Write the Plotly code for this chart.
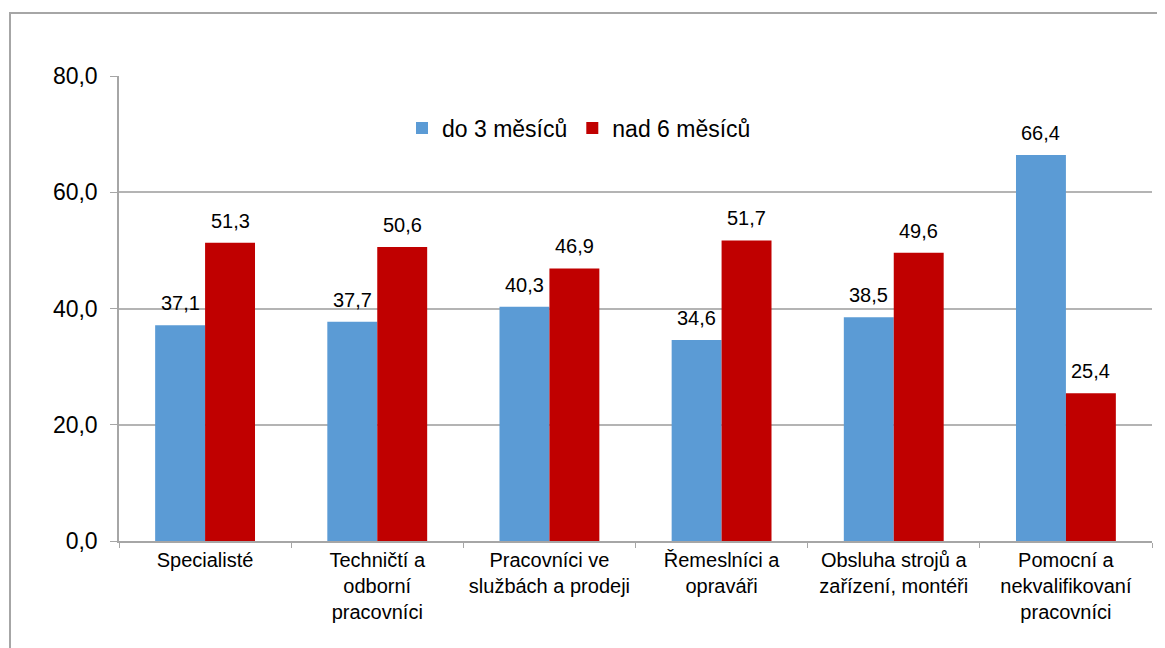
import plotly.graph_objects as go

categories = [
    "Specialisté",
    "Techničtí a<br>odborní<br>pracovníci",
    "Pracovníci ve<br>službách a prodeji",
    "Řemeslníci a<br>opraváři",
    "Obsluha strojů a<br>zařízení, montéři",
    "Pomocní a<br>nekvalifikovaní<br>pracovníci",
]
do_3 = [37.1, 37.7, 40.3, 34.6, 38.5, 66.4]
nad_6 = [51.3, 50.6, 46.9, 51.7, 49.6, 25.4]

# page body has an 8px margin, so the figure is a bit smaller than the window
W, H = 1157, 640
L, R, T, B = 111, 13, 68, 107
pw, ph = W - L - R, H - T - B
BARGAP = 0.42
bar_w = pw / len(categories) * (1 - BARGAP) / 2

fig = go.Figure()
fig.add_trace(go.Bar(x=categories, y=do_3, name="do 3 měsíců",
                     marker=dict(color="#5B9BD5", line_width=0)))
fig.add_trace(go.Bar(x=categories, y=nad_6, name="nad 6 měsíců",
                     marker=dict(color="#C00000", line_width=0)))

# value labels above the bars
for vals, shift in [(do_3, -bar_w / 2), (nad_6, bar_w / 2)]:
    for c, v in zip(categories, vals):
        fig.add_annotation(x=c, y=v, text=f"{v:.1f}".replace(".", ","),
                           showarrow=False, xshift=shift, yshift=22,
                           yanchor="middle", font=dict(size=20, color="#000000"))

# outer frame of the chart
fig.add_shape(type="rect", xref="paper", yref="paper",
              x0=(2 - L) / pw, x1=(W + 10 - L) / pw,
              y0=(H - B - H - 10) / ph, y1=(H - B - 5) / ph,
              line=dict(color="#a6a6a6", width=2), layer="below")

fig.update_layout(
    width=W, height=H,
    margin=dict(l=L, r=R, t=T, b=B),
    paper_bgcolor="white", plot_bgcolor="white",
    font=dict(family="Liberation Sans, Arial, sans-serif", color="#000000"),
    separators=", ",
    barmode="group", bargap=BARGAP, bargroupgap=0,
    legend=dict(orientation="h", x=(394 - L) / pw, y=(H - B - 120) / ph,
                xanchor="left", yanchor="middle", font=dict(size=23),
                itemwidth=30, traceorder="normal", bgcolor="rgba(0,0,0,0)"),
    xaxis=dict(showline=True, linecolor="#a6a6a6", linewidth=1.5,
               ticks="outside", tickson="boundaries", ticklen=5,
               tickcolor="#a6a6a6", tickfont=dict(size=20)),
    yaxis=dict(range=[0, 80], dtick=20, tickformat=".1f",
               showline=True, linecolor="#a6a6a6", linewidth=1.5,
               ticks="outside", ticklen=7, tickcolor="#a6a6a6",
               ticklabelstandoff=8,
               showgrid=True, gridcolor="#b4b4b4", gridwidth=1.5,
               zeroline=False, tickfont=dict(size=23)),
)

fig.write_html("out.html")
